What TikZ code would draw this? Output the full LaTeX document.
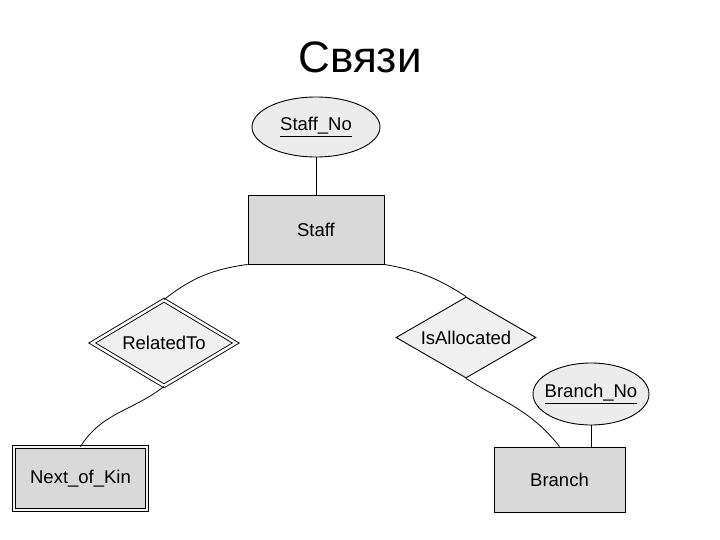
\documentclass[tikz,border=0pt]{standalone}
\usepackage{fontspec}
\setmainfont{Liberation Sans}
\usetikzlibrary{shapes.geometric}
\newcommand{\zb}[1]{\makebox[0pt]{#1}}
\begin{document}
\begin{tikzpicture}[x=1pt,y=-1pt,
  every node/.style={font=\fontsize{18.5}{20}\selectfont, inner sep=0pt},
  entity/.style={rectangle, draw=black, line width=0.9pt, fill=gray!30},
  weakentity/.style={entity, double=gray!10, double distance=2.5pt},
  attr/.style={ellipse, draw=black, line width=0.9pt, fill=gray!15},
  rel/.style={diamond, draw=black, line width=0.9pt, fill=gray!12},
  weakrel/.style={rel, double=white, double distance=2.5pt},
  link/.style={draw=black, line width=0.8pt}]
\useasboundingbox (0,0) rectangle (720,540);
\node[font=\fontsize{44}{48}\selectfont] (title) at (360,57) {Связи};
\node[attr, minimum width=128pt, minimum height=60pt] (staffno) at (316,127) {\zb{\underline{Staff\_No}}};
\node[entity, minimum width=136pt, minimum height=69pt] (staff) at (316,229.5) {Staff};
\node[weakrel, minimum width=144pt, minimum height=86pt] (relto) at (164,343) {\zb{RelatedTo}};
\node[rel, minimum width=140pt, minimum height=81pt] (isalloc) at (466,337.5) {\zb{IsAllocated}};
\node[attr, minimum width=116pt, minimum height=62pt] (branchno) at (591,394) {\zb{\underline{Branch\_No}}};
\node[weakentity, minimum width=133pt, minimum height=63pt] (kin) at (80.5,478.5) {Next\_of\_Kin};
\node[entity, minimum width=131pt, minimum height=65pt] (branch) at (559.5,479.5) {Branch};
\draw[link] (staffno) -- (staff);
\draw[link] (staff.south west) to[out=188,in=38] (relto.north);
\draw[link] (relto.south) to[out=-142,in=58] (kin.north);
\draw[link] (staff.south east) to[out=-10,in=147] (isalloc.north);
\draw[link] (isalloc.south) to[out=-32,in=128] (branch.north);
\draw[link] (branchno.south) -- (branchno.south |- branch.north);
\end{tikzpicture}
\end{document}
